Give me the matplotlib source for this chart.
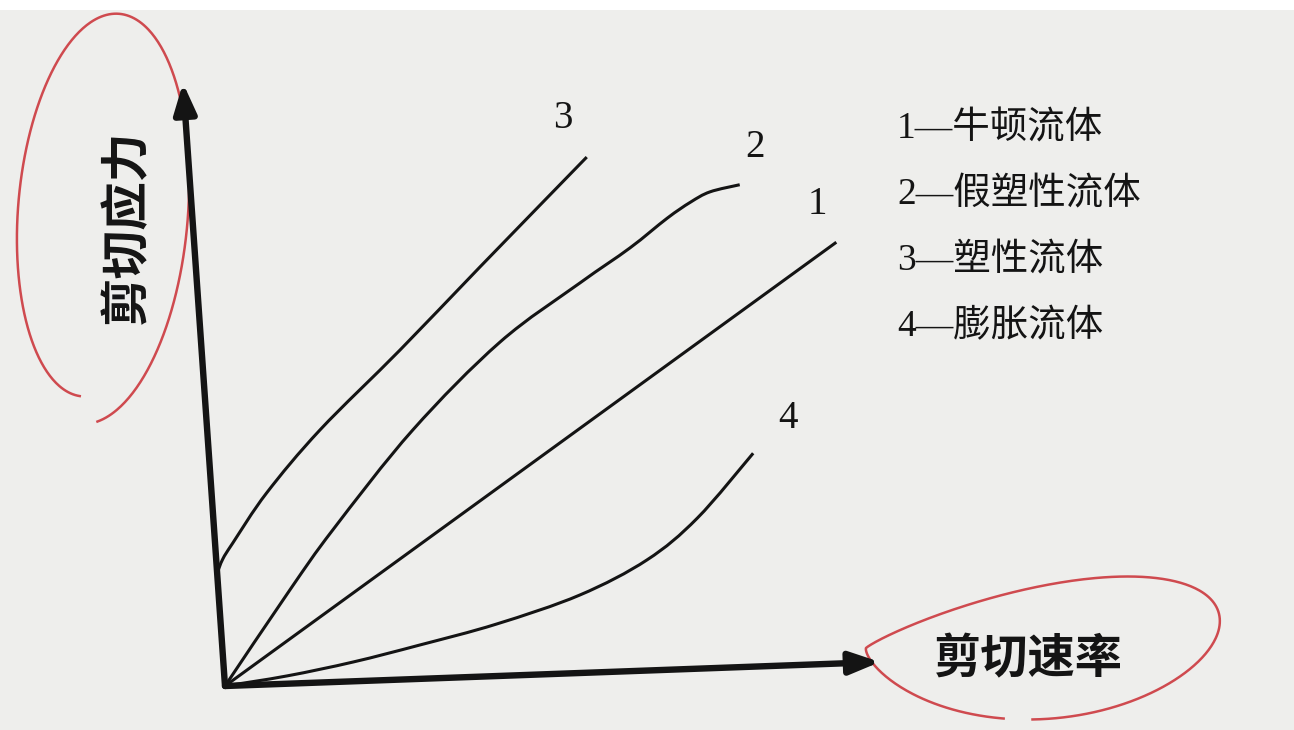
import numpy as np
import matplotlib.pyplot as plt
from matplotlib.transforms import Affine2D
from matplotlib.path import Path
from matplotlib.patches import PathPatch

# curves; both axes run from 0 to 10 (arrow tips)
newton_rate = [0, 9.78]
newton_stress = [0, 6.97]

pseudo_rate = [0, 1.09, 1.81, 3.13, 4.55, 5.83, 6.63, 7.23, 7.60, 7.91, 8.37]
pseudo_stress = [0, 1.55, 2.52, 4.12, 5.52, 6.45, 7.00, 7.47, 7.72, 7.88, 7.98]

plastic_rate = [0, 0.10, 0.27, 0.84, 1.72, 3.02, 4.33, 6.07]
plastic_stress = [1.87, 2.10, 2.36, 3.17, 4.18, 5.45, 6.78, 8.53]

dilatant_rate = [0, 0.96, 1.98, 3.01, 4.20, 5.50, 6.56, 7.37, 8.29]
dilatant_stress = [0, 0.13, 0.32, 0.56, 0.86, 1.29, 1.83, 2.49, 3.53]

curve_ids = ['1', '2', '3', '4']
legend_labels = ['1—牛顿流体', '2—假塑性流体', '3—塑性流体', '4—膨胀流体']
x_label = '剪切速率'
y_label = '剪切应力'

ink = '#141414'
paper = '#eeeeec'
red = '#cf4a4f'
cjk = ['Noto Sans CJK SC', 'DejaVu Sans']
serif = ['Liberation Serif', 'Noto Sans CJK SC']


def smooth_path(xs, ys):
    # catmull-rom through the read points, drawn as bezier segments
    p = np.column_stack([xs, ys]).astype(float)
    if len(p) < 3:
        return Path(p)
    ext = np.vstack([p[0], p, p[-1]])
    verts = [p[0]]
    codes = [Path.MOVETO]
    for i in range(1, len(ext) - 2):
        c1 = ext[i] + (ext[i + 1] - ext[i - 1]) / 6
        c2 = ext[i + 1] - (ext[i + 2] - ext[i]) / 6
        verts += [c1, c2, ext[i + 1]]
        codes += [Path.CURVE4] * 3
    return Path(verts, codes)


fig = plt.figure(figsize=(12.94, 7.30), dpi=100)
fig.patch.set_facecolor('white')
ax = fig.add_axes([0, 0, 1, 720 / 730])
ax.set_facecolor(paper)
ax.set_xlim(0, 1294)
ax.set_ylim(730, 10)
ax.set_xticks([])
ax.set_yticks([])
for s in ax.spines.values():
    s.set_visible(False)

# the photographed axes are slightly skewed: map (rate, stress) onto the page
skew = Affine2D.from_values(65.5, -2.4, -4.2, -60.3, 225, 686)
trans = skew + ax.transData

arrow = dict(arrowstyle='-|>,head_length=1.2,head_width=0.45', lw=4.6,
             color=ink, shrinkA=0, shrinkB=0, mutation_scale=15)
ax.annotate('', xy=(10, 0), xytext=(0, 0), xycoords=trans, textcoords=trans, arrowprops=arrow)
ax.annotate('', xy=(0, 10), xytext=(0, 0), xycoords=trans, textcoords=trans, arrowprops=arrow)

curves = [(newton_rate, newton_stress), (pseudo_rate, pseudo_stress),
          (plastic_rate, plastic_stress), (dilatant_rate, dilatant_stress)]
for rate, stress in curves:
    ax.add_patch(PathPatch(smooth_path(rate, stress), transform=trans, fill=False,
                           edgecolor=ink, lw=2.2, capstyle='butt'))

id_pos = [(9.53, 7.60), (8.64, 8.58), (5.75, 9.19), (8.86, 4.09)]
for cid, (px, py) in zip(curve_ids, id_pos):
    ax.text(px, py, cid, transform=trans, fontsize=28, family=serif,
            ha='center', va='center', color=ink)

for i, lab in enumerate(legend_labels):
    ax.text(897, 129 + 66 * i, lab, fontsize=27, family=serif,
            ha='left', va='center', color=ink)

ax.text(127, 227, y_label, rotation=90, fontsize=35, family=cjk, weight='bold',
        ha='center', va='center', color=ink)
ax.text(1028, 659, x_label, fontsize=34, family=cjk, weight='bold',
        ha='center', va='center', color=ink)

# red hand-drawn loops around the axis titles
t = np.radians(np.linspace(93, 440, 400))
grow = np.linspace(0.9, 1.03, 400)
phi = np.radians(5)
lx = 100 + grow * (88 * np.cos(t) * np.cos(phi) - 206 * np.sin(t) * np.sin(phi))
ly = 212 + grow * (88 * np.cos(t) * np.sin(phi) + 206 * np.sin(t) * np.cos(phi))
ax.plot(lx, ly, color=red, lw=1.8)

t = np.radians(np.linspace(105, 455, 400))
f = np.sin(t) * np.abs(np.sin(t / 2)) ** 0.6
rx = 1038 - 172 * np.cos(t) - 0.7 * 85 * f
ry = 648 + 85 * f
ax.plot(rx, ry, color=red, lw=1.8)

fig.savefig('out.png', dpi=100)
